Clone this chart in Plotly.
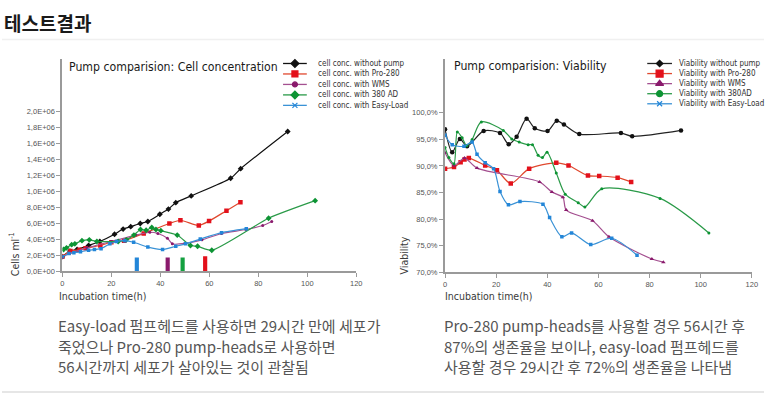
import plotly.graph_objects as go

W, H = 770, 399

# ---------------- Data: cell concentration (left) ----------------
cc_black_x = [0, 3.1, 6.0, 10.7, 15.3, 21.3, 24.8, 27.9, 31.8, 34.9, 39.8, 43.3, 46.3, 52.6, 68.7, 72.8, 92.0]
cc_black_y = [1.8e5, 2.5e5, 2.7e5, 3.2e5, 3.7e5, 4.6e5, 5.25e5, 5.55e5, 5.95e5, 6.2e5, 7.1e5, 7.75e5, 8.55e5, 9.4e5, 1.16e6, 1.28e6, 1.745e6]

cc_red_x = [0, 3.3, 7.0, 9.5, 15.5, 20.0, 25.2, 33.2, 43.7, 48.2, 55.7, 59.9, 67.0, 72.7]
cc_red_y = [1.8e5, 2.5e5, 2.65e5, 2.85e5, 3.2e5, 3.6e5, 3.8e5, 4.7e5, 5.95e5, 6.35e5, 5.7e5, 6.25e5, 7.55e5, 8.6e5]

cc_purple_x = [0, 3.0, 10.0, 20.0, 30.0, 35.7, 39.0, 42.9, 44.9, 50.0, 57.0, 65.0, 75.0, 81.8, 85.5]
cc_purple_y = [1.8e5, 2.2e5, 2.9e5, 3.7e5, 4.5e5, 4.85e5, 4.7e5, 4.1e5, 3.4e5, 3.45e5, 3.9e5, 4.7e5, 5.2e5, 5.7e5, 6.2e5]

cc_green_x = [0.5, 1.7, 3.8, 5.1, 8.0, 11.0, 14.1, 22.8, 26.1, 29.2, 31.9, 34.2, 36.5, 38.2, 40.2, 46.9, 52.3, 55.2, 61.0, 84.2, 103.2]
cc_green_y = [2.7e5, 2.9e5, 3.3e5, 3.4e5, 3.8e5, 3.9e5, 3.7e5, 3.7e5, 3.9e5, 4.5e5, 5.2e5, 5.1e5, 5.45e5, 5.2e5, 5.05e5, 4.5e5, 3.2e5, 3.1e5, 2.6e5, 6.6e5, 8.8e5]

cc_blue_x = [0, 2.7, 4.7, 7.4, 10.7, 13.1, 15.8, 19.4, 22.1, 25.5, 29.1, 34.9, 40.9, 46.3, 50.3, 56.3, 65.0, 75.1]
cc_blue_y = [1.8e5, 2.2e5, 2.3e5, 2.4e5, 2.6e5, 2.7e5, 2.8e5, 3.4e5, 3.7e5, 3.8e5, 3.6e5, 3.0e5, 2.7e5, 3.1e5, 3.4e5, 4.0e5, 4.8e5, 5.3e5]

marker_bar_x = [30.4, 43.0, 49.1, 58.3]
marker_bar_y = [1.7e5, 1.7e5, 1.7e5, 1.85e5]

cc_tickvals = [0, 2e5, 4e5, 6e5, 8e5, 1e6, 1.2e6, 1.4e6, 1.6e6, 1.8e6, 2e6]
cc_ticktext = ["0,0E+00", "2,0E+05", "4,0E+05", "6,0E+05", "8,0E+05", "1,0E+06",
               "1,2E+06", "1,4E+06", "1,6E+06", "1,8E+06", "2,0E+06"]

# ---------------- Data: viability (right) ----------------
v_black_x = [0, 2.8, 5.8, 8.6, 15.1, 21.5, 24.9, 28.0, 31.9, 35.1, 40.1, 43.7, 46.5, 52.5, 68.8, 73.2, 92.3]
v_black_y = [96.9, 92.6, 95.1, 93.7, 96.6, 96.2, 94.1, 95.5, 98.9, 97.1, 96.6, 98.5, 97.8, 96.0, 96.2, 95.6, 96.7]

v_red_x = [0, 3.5, 6.1, 7.6, 9.3, 15.7, 20.3, 25.7, 32.9, 43.5, 48.3, 55.9, 60.3, 67.5, 72.8]
v_red_y = [89.5, 89.8, 90.7, 91.2, 91.5, 90.1, 89.2, 86.7, 89.5, 90.6, 90.1, 88.2, 88.1, 87.8, 87.0]

v_purple_x = [0, 3.5, 7.6, 12.5, 37.0, 41.8, 46.1, 47.4, 57.7, 64.1, 80.9, 85.4]
v_purple_y = [92.5, 90.1, 91.5, 89.6, 87.0, 85.1, 84.1, 81.7, 79.7, 76.7, 72.5, 71.9]

v_green_x = [0, 1.5, 3.5, 4.8, 6.7, 8.5, 10.6, 14.2, 22.8, 26.1, 29.0, 32.5, 34.2, 36.4, 38.1, 39.9, 43.5, 47.0, 52.1, 54.7, 61.3, 84.1, 103.2]
v_green_y = [93.5, 91.6, 90.4, 96.4, 95.3, 93.8, 95.0, 98.3, 96.7, 95.1, 94.5, 94.0, 94.0, 92.0, 91.6, 92.6, 88.7, 84.7, 83.1, 82.3, 85.7, 83.9, 77.4]

v_blue_x = [0, 2.8, 7.4, 10.6, 12.5, 15.7, 19.0, 21.5, 24.8, 29.3, 38.3, 40.9, 45.7, 49.5, 57.0, 65.2, 75.1]
v_blue_y = [95.8, 94.0, 93.7, 94.5, 92.2, 90.6, 89.5, 85.2, 82.7, 83.3, 82.8, 80.3, 76.7, 77.4, 75.2, 76.4, 73.2]

v_tickvals = [70, 75, 80, 85, 90, 95, 100]
v_ticktext = ["70,0%", "75,0%", "80,0%", "85,0%", "90,0%", "95,0%", "100,0%"]

x_tickvals = [0, 20, 40, 60, 80, 100, 120]

left_legend = ["cell conc. without pump", "cell conc. with Pro-280", "cell conc. with WMS",
               "cell conc. with 380 AD", "cell conc. with Easy-Load"]
right_legend = ["Viability without pump", "Viability with Pro-280", "Viability with WMS",
                "Viability with 380AD", "Viability with Easy-Load"]

left_text = ["Easy-load 펌프헤드를 사용하면 29시간 만에 세포가",
             "죽었으나 Pro-280 pump-heads로 사용하면",
             "56시간까지 세포가 살아있는 것이 관찰됨"]
right_text = ["Pro-280 pump-heads를 사용할 경우 56시간 후",
              "87%의 생존율을 보이나, easy-load 펌프헤드를",
              "사용할 경우 29시간 후 72%의 생존율을 나타냄"]

# ---------------- Styles ----------------
C_BLACK = "#111111"
C_RED_L, C_RED_M = "#e0482e", "#e3101b"
C_PUR_L, C_PUR_M = "#a45090", "#8a1a6c"
C_GRN_L, C_GRN_M = "#2a9a48", "#0d9434"
C_BLU_L, C_BLU_M = "#3a92d6", "#2386d8"

NARROW = "DejaVu Sans"
KR = "Noto Sans CJK KR, Noto Sans, sans-serif"


def px(x):
    return x / W


def py(y):
    return 1 - y / H


fig = go.Figure()

left_series = [
    (cc_black_x, cc_black_y, C_BLACK, C_BLACK, "diamond", 4.5),
    (cc_red_x, cc_red_y, C_RED_L, C_RED_M, "square", 4.5),
    (cc_purple_x, cc_purple_y, C_PUR_L, C_PUR_M, "circle", 3),
    (cc_green_x, cc_green_y, C_GRN_L, C_GRN_M, "diamond", 4.5),
    (cc_blue_x, cc_blue_y, C_BLU_L, C_BLU_M, "square", 3.5),
]
right_series = [
    (v_black_x, v_black_y, "#222222", C_BLACK, "circle", 4.5),
    (v_red_x, v_red_y, C_RED_L, C_RED_M, "square", 4.5),
    (v_purple_x, v_purple_y, C_PUR_L, C_PUR_M, "triangle-up", 4),
    (v_green_x, v_green_y, C_GRN_L, C_GRN_M, "circle", 3),
    (v_blue_x, v_blue_y, C_BLU_L, C_BLU_M, "square", 3.5),
]

fig.add_trace(go.Bar(x=marker_bar_x, y=marker_bar_y, width=1.7,
                     marker=dict(color=[C_BLU_M, C_PUR_M, "#14a040", C_RED_M], line=dict(width=0)),
                     xaxis="x", yaxis="y", hoverinfo="skip"))

for xs, ys, lc, mc, sym, sz in left_series:
    fig.add_trace(go.Scatter(x=xs, y=ys, mode="lines+markers", xaxis="x", yaxis="y",
                             line=dict(color=lc, width=1.2, shape="spline", smoothing=0.6),
                             marker=dict(color=mc, symbol=sym, size=sz, line=dict(width=0))))

for xs, ys, lc, mc, sym, sz in right_series:
    fig.add_trace(go.Scatter(x=xs, y=ys, mode="lines+markers", xaxis="x2", yaxis="y2",
                             line=dict(color=lc, width=1.2, shape="spline", smoothing=0.8),
                             marker=dict(color=mc, symbol=sym, size=sz, line=dict(width=0))))

# ---------------- Manual legends (page-pixel overlay axis) ----------------
leg_left = dict(x0=284, x1=308, tx=317, y0=64.3, dy=10.6)
leg_right = dict(x0=652, x1=677, tx=682, y0=64.3, dy=10.2)
left_leg_sym = [("diamond", 6), ("square", 6), ("circle", 5), ("diamond", 6), ("x-thin-open", 5)]
right_leg_sym = [("diamond", 5), ("square", 7), ("triangle-up", 7), ("circle", 6), ("x-thin-open", 5)]

annotations = []
for cfg, names, syms, series in [(leg_left, left_legend, left_leg_sym, left_series),
                                 (leg_right, right_legend, right_leg_sym, right_series)]:
    for i, name in enumerate(names):
        yy = cfg["y0"] + i * cfg["dy"]
        lc, mc = series[i][2], series[i][3]
        sym, sz = syms[i]
        xm = (cfg["x0"] + cfg["x1"]) / 2
        fig.add_trace(go.Scatter(x=[cfg["x0"], cfg["x1"]], y=[yy, yy], mode="lines",
                                 xaxis="x3", yaxis="y3", line=dict(color=lc, width=1.3),
                                 hoverinfo="skip"))
        fig.add_trace(go.Scatter(x=[xm], y=[yy], mode="markers", xaxis="x3", yaxis="y3",
                                 marker=dict(color=mc, symbol=sym, size=sz,
                                             line=dict(color=mc, width=1.2)),
                                 hoverinfo="skip"))
        annotations.append(dict(x=px(cfg["tx"]), y=py(yy), text=name,
                                font=dict(family=NARROW, size=8, color="#333333")))

# ---------------- Text annotations ----------------
annotations += [
    dict(x=px(0), y=py(23), text="테스트결과", font=dict(family=KR, size=19, color="#1a1a1a", weight=700)),
    dict(x=px(66), y=py(68), text="Pump comparision: Cell concentration",
         font=dict(family=NARROW, size=12.2, color="#1a1a1a")),
    dict(x=px(455), y=py(67), text="Pump comparision: Viability",
         font=dict(family=NARROW, size=12.2, color="#1a1a1a")),
    dict(x=px(56), y=py(300), text="Incubation time(h)", font=dict(family=NARROW, size=10.5, color="#3a3a3a")),
    dict(x=px(446), y=py(300), text="Incubation time(h)", font=dict(family=NARROW, size=10.5, color="#3a3a3a")),
    dict(x=px(12), y=py(257), text="Cells ml<sup>-1</sup>", textangle=-90, xanchor="center", align="center",
         font=dict(family=NARROW, size=10.5, color="#3a3a3a")),
    dict(x=px(406), y=py(259), text="Viability", textangle=-90, xanchor="center", align="center",
         font=dict(family=NARROW, size=10.5, color="#3a3a3a")),
]
for i, line in enumerate(left_text):
    annotations.append(dict(x=px(55), y=py(330 + i * 20.5), text=line,
                            font=dict(family=KR, size=15, color="#555555")))
for i, line in enumerate(right_text):
    annotations.append(dict(x=px(445), y=py(330 + i * 20.5), text=line,
                            font=dict(family=KR, size=15, color="#555555")))
for a in annotations:
    a.setdefault("xref", "paper")
    a.setdefault("yref", "paper")
    a.setdefault("showarrow", False)
    a.setdefault("xanchor", "left")
    a.setdefault("yanchor", "middle")
    a.setdefault("align", "left")

axis_common = dict(showgrid=False, zeroline=False, showline=True, linecolor="#9a9a9a", linewidth=2,
                   ticks="outside", ticklen=4, tickwidth=1, tickcolor="#9a9a9a",
                   tickfont=dict(family="Liberation Sans, Arial, sans-serif", size=7.5, color="#555555"))

cc_top = 2e6 * (274.5 - 60) / (274.5 - 112.5)
v_top = 70 + 30 * (275.7 - 60) / (275.7 - 114.3)

fig.update_layout(
    width=W, height=H, margin=dict(l=0, r=0, t=0, b=0),
    paper_bgcolor="white", plot_bgcolor="rgba(0,0,0,0)", showlegend=False,
    xaxis=dict(domain=[px(61), px(358)], range=[0, 120], tickvals=x_tickvals, anchor="y", **axis_common),
    yaxis=dict(domain=[py(274.5), py(60)], range=[0, cc_top], tickvals=cc_tickvals, ticktext=cc_ticktext,
               anchor="x", **axis_common),
    xaxis2=dict(domain=[px(447.7), px(757.7)], range=[0, 120], tickvals=x_tickvals, anchor="y2", **axis_common),
    yaxis2=dict(domain=[py(275.7), py(60)], range=[70, v_top], tickvals=v_tickvals, ticktext=v_ticktext,
                anchor="x2", **axis_common),
    xaxis3=dict(domain=[0, 1], range=[0, W], visible=False, anchor="y3"),
    yaxis3=dict(domain=[0, 1], range=[H, 0], visible=False, anchor="x3"),
    annotations=annotations,
    shapes=[
        dict(type="line", xref="paper", yref="paper", x0=0, x1=1, y0=py(40), y1=py(40),
             line=dict(color="#f0f0f0", width=1.5)),
        dict(type="line", xref="paper", yref="paper", x0=0, x1=1, y0=py(397), y1=py(397),
             line=dict(color="#e6e6e6", width=2)),
    ],
)

post = """
document.body.style.margin='0';
document.body.style.overflow='hidden';
document.querySelectorAll('text.annotation-text').forEach(function(t){
  var ff = (t.style.fontFamily || '');
  if (ff.indexOf('DejaVu Sans') >= 0) { t.style.fontStretch = 'condensed'; }
});
"""

fig.write_html("out.html", config={"displayModeBar": False}, post_script=post)
